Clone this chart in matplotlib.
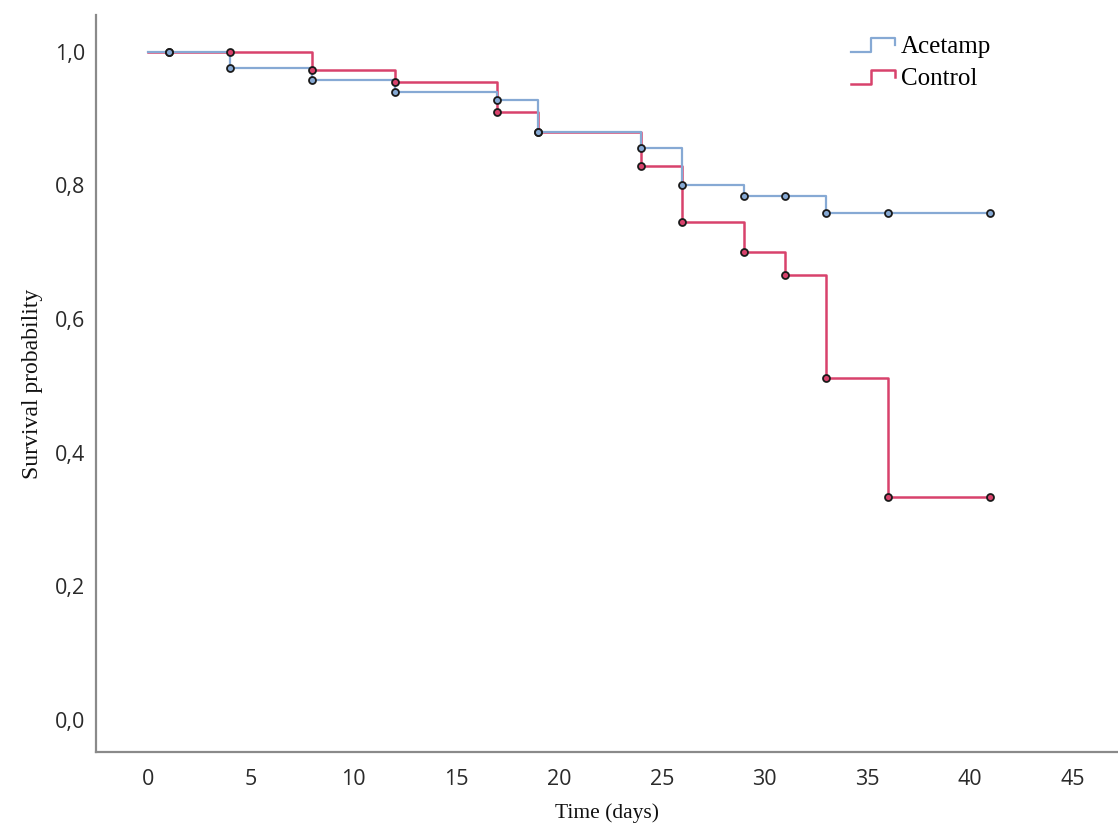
import matplotlib
matplotlib.use("Agg")
import matplotlib.pyplot as plt
from matplotlib.lines import Line2D
from matplotlib.legend_handler import HandlerBase
from matplotlib.ticker import FuncFormatter

# Kaplan-Meier step data (time in days, survival probability)
acet_times = [0, 4, 8, 12, 17, 19, 24, 26, 29, 33, 41]
acet_surv = [1.0, 0.975, 0.958, 0.939, 0.928, 0.880, 0.856, 0.800, 0.784, 0.759, 0.759]
acet_cens_t = [1, 4, 8, 12, 17, 19, 24, 26, 29, 31, 33, 36, 41]
acet_cens_s = [1.0, 0.975, 0.958, 0.939, 0.928, 0.880, 0.856, 0.800, 0.784, 0.784,
               0.759, 0.759, 0.759]

ctrl_times = [0, 8, 12, 17, 19, 24, 26, 29, 31, 33, 36, 41]
ctrl_surv = [1.0, 0.973, 0.954, 0.910, 0.880, 0.828, 0.745, 0.700, 0.666, 0.511, 0.334, 0.334]
ctrl_cens_t = [1, 4, 8, 12, 17, 19, 24, 26, 29, 31, 33, 36, 41]
ctrl_cens_s = [1.0, 1.0, 0.973, 0.954, 0.910, 0.880, 0.828, 0.745, 0.700, 0.666,
               0.511, 0.334, 0.334]

x_ticks = [0, 5, 10, 15, 20, 25, 30, 35, 40, 45]
y_ticks = [0.0, 0.2, 0.4, 0.6, 0.8, 1.0]

BLUE = "#86a9d4"
RED = "#d8426c"
SPINE = "#8a8a8a"
SERIF = "Liberation Serif"
SANS = "Open Sans"


class StepHandler(HandlerBase):
    """Draws a small step shape as the legend key."""
    def create_artists(self, legend, orig_handle, xdescent, ydescent,
                       width, height, fontsize, trans):
        x0, w = -xdescent, width
        lo, hi = -ydescent + 0.05 * height, -ydescent + 0.85 * height
        xs = [x0, x0 + 0.45 * w, x0 + 0.45 * w, x0 + w, x0 + w]
        ys = [lo, lo, hi, hi, lo + 0.5 * (hi - lo)]
        line = Line2D(xs, ys, color=orig_handle.get_color(),
                      linewidth=orig_handle.get_linewidth(), transform=trans)
        return [line]


fig = plt.figure(figsize=(11.18, 8.34), dpi=100, facecolor="white")
ax = fig.add_axes([0.0859, 0.0983, 0.914, 0.884])

la, = ax.step(acet_times, acet_surv, where="post", color=BLUE, linewidth=1.6, zorder=3)
lc, = ax.step(ctrl_times, ctrl_surv, where="post", color=RED, linewidth=1.8, zorder=2)

ax.plot(acet_cens_t, acet_cens_s, linestyle="none", marker="o", markersize=5,
        markerfacecolor=BLUE, markeredgecolor="#1a1a1a", markeredgewidth=1.3, zorder=5)
ax.plot(ctrl_cens_t, ctrl_cens_s, linestyle="none", marker="o", markersize=5,
        markerfacecolor=RED, markeredgecolor="#1a1a1a", markeredgewidth=1.3, zorder=4)

ax.set_xlim(-2.53, 47.2)
ax.set_ylim(-0.048, 1.055)
ax.set_xticks(x_ticks)
ax.set_yticks(y_ticks)
ax.yaxis.set_major_formatter(FuncFormatter(lambda v, p: f"{v:.1f}".replace(".", ",")))

for side in ("top", "right"):
    ax.spines[side].set_visible(False)
for side in ("left", "bottom"):
    ax.spines[side].set_color(SPINE)
    ax.spines[side].set_linewidth(1.6)

ax.tick_params(length=0, pad=8, labelsize=15.5, labelcolor="#2a2a2a")
ax.tick_params(axis="x", pad=12)
for lbl in ax.get_xticklabels() + ax.get_yticklabels():
    lbl.set_fontfamily(SANS)

ax.set_xlabel("Time (days)", fontsize=15.5, fontfamily=SERIF, color="#111111", labelpad=10)
ax.set_ylabel("Survival probability", fontsize=17, fontfamily=SERIF, color="#111111",
              labelpad=8)

leg = fig.legend([la, lc], ["Acetamp", "Control"], loc="upper left",
                 bbox_to_anchor=(0.741, 0.985), frameon=False,
                 handler_map={Line2D: StepHandler()},
                 handlelength=1.75, handletextpad=0.25, labelspacing=0.4,
                 prop={"family": SERIF, "size": 18})

fig.savefig("out.png", dpi=100, facecolor="white")
